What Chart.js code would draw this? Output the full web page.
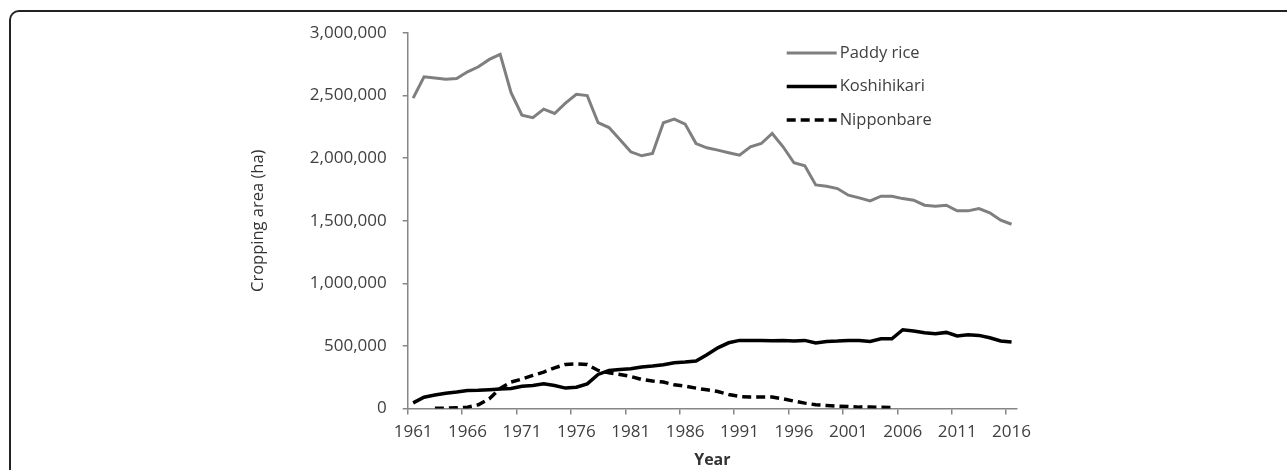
<!DOCTYPE html>
<html>
<head>
<meta charset="utf-8">
<script src="https://cdn.jsdelivr.net/npm/chart.js@4.4.0/dist/chart.umd.min.js"></script>
<style>
    html, body { margin: 0; padding: 0; background: #fff; overflow: hidden; }
    #wrap { position: relative; width: 1287px; height: 470px; }
    #frame {
        position: absolute; left: 9px; top: 10px; width: 1400px; height: 600px;
        border-top: 2px solid #222; border-left: 2px solid #222;
        border-top-left-radius: 10px; pointer-events: none;
    }
</style>
</head>
<body>
<div id="wrap">
    <div id="frame"></div>
    <canvas id="riceChart" width="1287" height="470"></canvas>
</div>
<script>
// Cropping area in Japan, 1961-2016
const years = [
    '1961', '1962', '1963', '1964', '1965', '1966', '1967', '1968', '1969', '1970',
    '1971', '1972', '1973', '1974', '1975', '1976', '1977', '1978', '1979', '1980',
    '1981', '1982', '1983', '1984', '1985', '1986', '1987', '1988', '1989', '1990',
    '1991', '1992', '1993', '1994', '1995', '1996', '1997', '1998', '1999', '2000',
    '2001', '2002', '2003', '2004', '2005', '2006', '2007', '2008', '2009', '2010',
    '2011', '2012', '2013', '2014', '2015', '2016'
];

const paddyRice = [
    2480000, 2650000, 2640000, 2630000, 2637000, 2690000, 2730000, 2789000, 2829000, 2523000,
    2344000, 2323000, 2392000, 2357000, 2440000, 2510000, 2500000, 2283000, 2245000, 2150000,
    2051000, 2019000, 2037000, 2283000, 2312000, 2272000, 2117000, 2083000, 2064000, 2043000,
    2024000, 2091000, 2117000, 2197000, 2091000, 1963000, 1939000, 1786000, 1776000, 1757000,
    1704000, 1683000, 1659000, 1696000, 1696000, 1677000, 1664000, 1624000, 1616000, 1624000,
    1579000, 1579000, 1597000, 1563000, 1504000, 1472000
];

const koshihikari = [
    45000, 90000, 108000, 122000, 132000, 144000, 145000, 150000, 155000, 160000,
    178000, 184000, 197000, 184000, 163000, 170000, 197000, 272000, 304000, 312000,
    317000, 331000, 339000, 349000, 365000, 371000, 379000, 429000, 485000, 525000,
    544000, 544000, 544000, 541000, 544000, 539000, 544000, 523000, 536000, 539000,
    544000, 544000, 536000, 557000, 557000, 629000, 619000, 605000, 597000, 608000,
    579000, 589000, 584000, 565000, 539000, 531000
];

const nipponbare = [
    null, null, 2000, 3000, 5000, 10000, 30000, 77000, 160000, 211000,
    235000, 264000, 291000, 325000, 352000, 357000, 352000, 304000, 285000, 272000,
    256000, 232000, 219000, 211000, 189000, 179000, 163000, 149000, 136000, 112000,
    96000, 91000, 91000, 91000, 77000, 59000, 43000, 30000, 24000, 19000,
    16000, 11000, 11000, 10000, 8000, null, null, null, null, null,
    null, null, null, null, null, null
];

const seriesNames = ['Paddy rice', 'Koshihikari', 'Nipponbare'];

const axisColor = '#868686';
const textColor = '#404040';

Chart.defaults.font.family = '"Open Sans", sans-serif';
Chart.defaults.color = textColor;

// legend drawn inside the plot, stacked on the right
const insideLegend = {
    id: 'insideLegend',
    afterDraw(chart) {
        const ctx = chart.ctx;
        const area = chart.chartArea;
        const x0 = area.left + 379;
        const y0 = area.top + 20;
        ctx.save();
        ctx.font = '16.5px "Open Sans", sans-serif';
        ctx.textBaseline = 'middle';
        ctx.fillStyle = textColor;
        chart.data.datasets.forEach((ds, i) => {
            const y = y0 + i * 33.5;
            ctx.beginPath();
            ctx.strokeStyle = ds.borderColor;
            ctx.lineWidth = ds.borderWidth;
            ctx.setLineDash(ds.borderDash || []);
            ctx.moveTo(x0, y);
            ctx.lineTo(x0 + 50, y);
            ctx.stroke();
            ctx.fillText(ds.label, x0 + 53, y);
        });
        ctx.restore();
    }
};

const ctxRice = document.getElementById('riceChart').getContext('2d');
new Chart(ctxRice, {
    type: 'line',
    data: {
        labels: years,
        datasets: [
            {
                label: seriesNames[0],
                data: paddyRice,
                borderColor: '#7f7f7f',
                borderWidth: 3,
                pointRadius: 0,
                tension: 0
            },
            {
                label: seriesNames[1],
                data: koshihikari,
                borderColor: '#000000',
                borderWidth: 3.5,
                pointRadius: 0,
                tension: 0
            },
            {
                label: seriesNames[2],
                data: nipponbare,
                borderColor: '#000000',
                borderWidth: 3.5,
                borderDash: [9, 5],
                pointRadius: 0,
                tension: 0,
                spanGaps: false
            }
        ]
    },
    options: {
        responsive: false,
        animation: false,
        layout: { padding: { left: 240, right: 270, top: 33, bottom: 0 } },
        plugins: {
            legend: { display: false },
            tooltip: { enabled: false }
        },
        scales: {
            x: {
                type: 'category',
                offset: true,
                grid: {
                    offset: true,
                    drawOnChartArea: false,
                    drawTicks: true,
                    tickLength: 6,
                    lineWidth: 1.5,
                    color: c => (c.index % 5 === 0 ? axisColor : 'transparent')
                },
                border: { display: true, color: axisColor, width: 1.5 },
                ticks: {
                    autoSkip: false,
                    maxRotation: 0,
                    padding: 7,
                    font: { size: 17 },
                    callback: function (val, idx) {
                        return idx % 5 === 0 ? this.getLabelForValue(val) : '';
                    }
                },
                title: {
                    display: true,
                    text: 'Year',
                    color: '#333',
                    font: { size: 16, weight: 'bold' },
                    padding: { top: 0, bottom: 0 }
                },
                afterFit: s => { s.height = 61.5; }
            },
            y: {
                min: 0,
                max: 3000000,
                grid: {
                    drawOnChartArea: false,
                    drawTicks: true,
                    tickLength: 5,
                    lineWidth: 1.5,
                    color: axisColor
                },
                border: { display: true, color: axisColor, width: 1.5 },
                ticks: {
                    stepSize: 500000,
                    padding: 16,
                    font: { size: 17 },
                    callback: v => v.toLocaleString('en-US')
                },
                title: {
                    display: true,
                    text: 'Cropping area (ha)',
                    color: '#333',
                    font: { size: 16.5 },
                    padding: { top: 8, bottom: 0 }
                },
                afterFit: s => { s.width = 167.7; }
            }
        }
    },
    plugins: [insideLegend]
});
</script>
</body>
</html>
